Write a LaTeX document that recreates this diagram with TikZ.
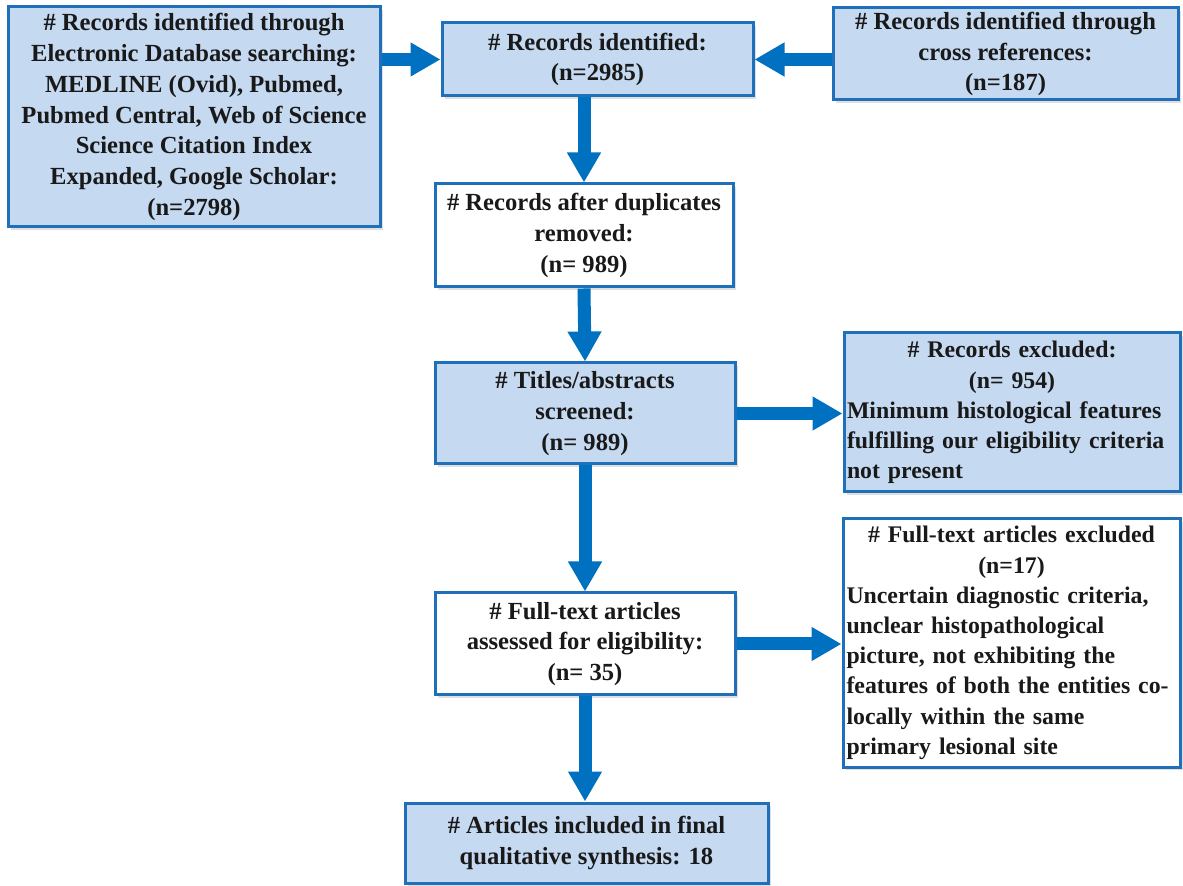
\documentclass[tikz,border=0pt]{standalone}
\usepackage{fontspec}
\setmainfont{Liberation Serif}
\usetikzlibrary{arrows.meta,shadows}
\definecolor{fillblue}{RGB}{197,217,241}
\definecolor{edgeblue}{RGB}{31,111,186}
\definecolor{flowblue}{RGB}{0,112,192}
\tikzset{
  recbox/.style={draw=edgeblue,line width=1.5pt,fill=fillblue,inner sep=0pt,align=center,
    font=\bfseries\fontsize{12.3}{15.4}\selectfont,text=black!90,
    drop shadow={shadow xshift=1.5pt,shadow yshift=-1.5pt,opacity=.25}},
  plainbox/.style={recbox,fill=white},
  notebox/.style={text width=165pt,align=left,font=\bfseries\fontsize{11.9}{15.1}\selectfont},
  flow/.style={draw=flowblue,line width=6.5pt,-{Triangle[width=16pt,length=15pt]}}
}

\begin{document}
\begin{tikzpicture}[x=0.5pt,y=-0.5pt]
  \useasboundingbox (0,0) rectangle (1183,886);
  % identification
  \node[recbox,minimum width=186pt,minimum height=110pt] (src) at (194,117)
    {\#~Records identified through\\Electronic Database searching:\\MEDLINE (Ovid), Pubmed,\\Pubmed Central, Web of Science\\Science Citation Index\\Expanded, Google Scholar:\\(n=2798)};
  \node[recbox,minimum width=155.5pt,minimum height=36.5pt] (ident) at (597.5,59.5)
    {\#~Records identified:\\(n=2985)};
  \node[recbox,minimum width=172.5pt,minimum height=46pt] (xref) at (1005.5,54)
    {\#~Records identified through\\cross references:\\(n=187)};
  % screening
  \node[plainbox,minimum width=149pt,minimum height=51.5pt] (dedup) at (584,235.5)
    {\#~Records after duplicates\\removed:\\(n= 989)};
  \node[recbox,minimum width=150pt,minimum height=50.5pt] (screen) at (585,413.5)
    {\#~Titles/abstracts\\screened:\\(n= 989)};
  \node[recbox,notebox,minimum width=168pt,minimum height=79.5pt] (excl) at (1012,412.5)
    {\centering\#~Records excluded:\\(n= 954)\par\raggedright
     Minimum histological features\\fulfilling our eligibility criteria\\not present};
  % eligibility
  \node[plainbox,minimum width=150pt,minimum height=51pt] (full) at (585,644)
    {\#~Full-text articles\\assessed for eligibility:\\(n= 35)};
  \node[plainbox,notebox,minimum width=168.5pt,minimum height=124pt] (exclft) at (1011.5,643)
    {\centering\#~Full-text articles excluded\\(n=17)\par\raggedright
     Uncertain diagnostic criteria,\\unclear histopathological\\picture, not exhibiting the\\features of both the entities co-\\locally within the same\\primary lesional site};
  % included
  \node[recbox,minimum width=181.5pt,minimum height=40pt] (incl) at (586.5,843)
    {\#~Articles included in final\\qualitative synthesis: 18};

  \draw[flow] (src.east |- ident.west) -- (ident.west);
  \draw[flow] (xref.west |- ident.east) -- (ident.east);
  \draw[flow] (dedup.north |- ident.south) -- (dedup.north);
  \draw[flow] (dedup.south) -- (screen.north);
  \draw[flow] (screen.east) -- (screen.east -| excl.west);
  \draw[flow] (screen.south) -- (full.north);
  \draw[flow] (full.east) -- (full.east -| exclft.west);
  \draw[flow] (full.south) -- (full.south |- incl.north);
\end{tikzpicture}
\end{document}
